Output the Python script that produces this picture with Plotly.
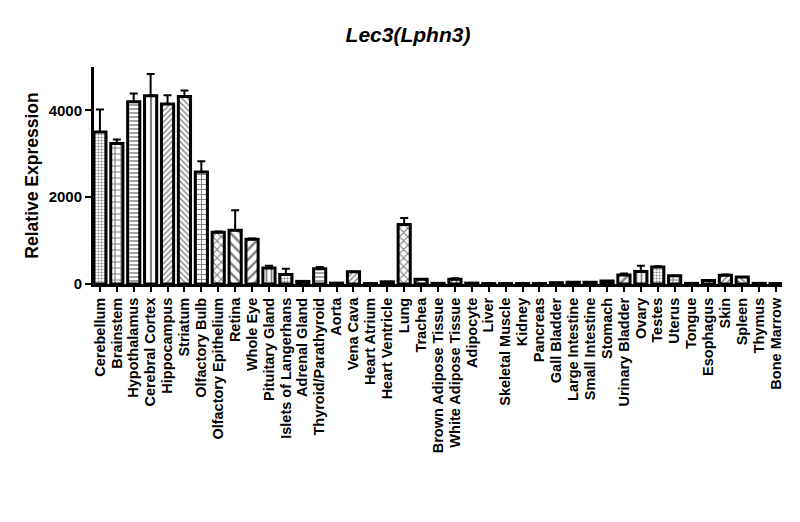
import plotly.graph_objects as go

categories = ["Cerebellum", "Brainstem", "Hypothalamus", "Cerebral Cortex", "Hippocampus",
              "Striatum", "Olfactory Bulb", "Olfactory Epithelium", "Retina", "Whole Eye",
              "Pituitary Gland", "Islets of Langerhans", "Adrenal Gland", "Thyroid/Parathyroid",
              "Aorta", "Vena Cava", "Heart Atrium", "Heart Ventricle", "Lung", "Trachea",
              "Brown Adipose Tissue", "White Adipose Tissue", "Adipocyte", "Liver",
              "Skeletal Muscle", "Kidney", "Pancreas", "Gall Bladder", "Large Intestine",
              "Small Intestine", "Stomach", "Urinary Bladder", "Ovary", "Testes", "Uterus",
              "Tongue", "Esophagus", "Skin", "Spleen", "Thymus", "Bone Marrow"]

values = [3500, 3240, 4200, 4340, 4150, 4320, 2580, 1190, 1240, 1030,
          370, 220, 60, 350, 20, 280, 10, 50, 1370, 110,
          15, 110, 20, 10, 10, 10, 10, 30, 40, 40,
          70, 210, 290, 390, 190, 15, 80, 200, 160, 15, 10]

errors = [520, 90, 190, 500, 200, 140, 250, 20, 460, 20,
          50, 130, 0, 40, 0, 0, 0, 0, 150, 0,
          0, 20, 0, 0, 0, 0, 0, 0, 0, 0,
          0, 30, 130, 20, 0, 0, 0, 20, 0, 0, 0]

pattern_cycle = [".", "+", "-", "|", "/", "\\", "+", "x", "\\", "/", "|"]
size_cycle = [3, 6, 4, 6, 4, 4, 5, 6, 7, 7, 5]

shapes = [pattern_cycle[i % len(pattern_cycle)] for i in range(len(categories))]
sizes = [size_cycle[i % len(size_cycle)] for i in range(len(categories))]

font = "Liberation Sans, Arial, sans-serif"

fig = go.Figure(go.Bar(
    x=categories,
    y=values,
    marker=dict(
        color="white",
        line=dict(color="black", width=3),
        pattern=dict(shape=shapes, size=sizes, solidity=0.35,
                     fgcolor="black", bgcolor="white", fillmode="overlay"),
    ),
    error_y=dict(type="data", array=errors, arrayminus=[0] * len(errors),
                 symmetric=False, color="black", thickness=2, width=4),
))

fig.update_layout(
    width=800, height=522,
    paper_bgcolor="white", plot_bgcolor="white",
    margin=dict(l=86, r=26, t=59, b=246, autoexpand=False),
    bargap=0.28,
    showlegend=False,
    title=dict(text="<b><i>Lec3(Lphn3)</i></b>", x=0.5, xanchor="center",
               y=0.948, yanchor="middle",
               font=dict(family=font, size=21, color="black")),
    font=dict(family=font, color="black"),
)

fig.update_xaxes(
    range=[-0.35, 40.35],
    tickmode="linear", tick0=0, dtick=1,
    tickangle=-90,
    ticks="outside", ticklen=5, tickwidth=2, tickcolor="black",
    showline=True, linecolor="black", linewidth=3,
    showgrid=False, zeroline=False,
    tickfont=dict(family=font, size=14.5, color="black", weight="bold"),
)

fig.update_yaxes(
    range=[0, 5000],
    tickvals=[0, 2000, 4000],
    ticks="outside", ticklen=6, tickwidth=2, tickcolor="black",
    showline=True, linecolor="black", linewidth=3,
    showgrid=False, zeroline=False,
    tickfont=dict(family=font, size=15, color="black", weight="bold"),
    title=dict(text="<b>Relative Expression</b>", standoff=6,
               font=dict(family=font, size=17.5, color="black")),
)

fig.write_html("out.html")
